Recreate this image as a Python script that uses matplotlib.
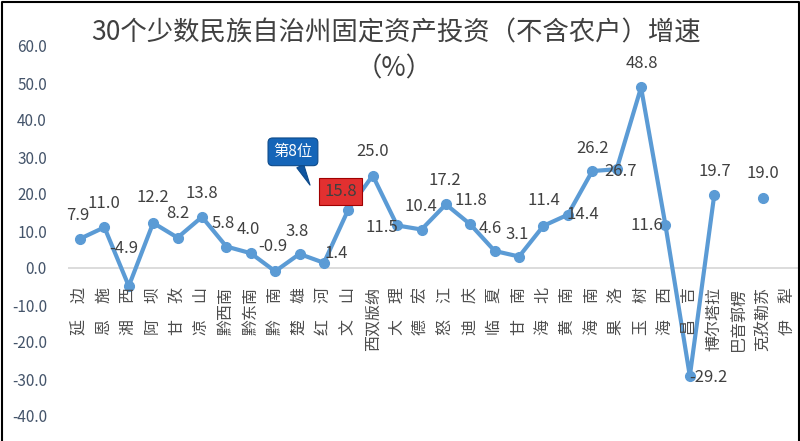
import numpy as np
import matplotlib
matplotlib.use('Agg')
import matplotlib.pyplot as plt
from matplotlib.lines import Line2D

plt.rcParams['font.family'] = ['Noto Sans CJK SC', 'DejaVu Sans']

# 30 autonomous prefectures, growth of fixed asset investment (%)
regions = ['延　边', '恩　施', '湘　西', '阿　坝', '甘　孜', '凉　山', '黔西南', '黔东南',
           '黔　南', '楚　雄', '红　河', '文　山', '西双版纳', '大　理', '德　宏', '怒　江',
           '迪　庆', '临　夏', '甘　南', '海　北', '黄　南', '海　南', '果　洛', '玉　树',
           '海　西', '昌　吉', '博尔塔拉', '巴音郭楞', '克孜勒苏', '伊　犁']
growth = [7.9, 11.0, -4.9, 12.2, 8.2, 13.8, 5.8, 4.0, -0.9, 3.8, 1.4, 15.8, 25.0, 11.5,
          10.4, 17.2, 11.8, 4.6, 3.1, 11.4, 14.4, 26.2, 26.7, 48.8, 11.6, -29.2, 19.7,
          np.nan, 19.0, np.nan]
yticks = list(range(-40, 61, 10))
highlight = 11  # 文山, ranked 8th
callout_text = '第8位'

# label offsets in pixels (dx, dy), Excel placed them a bit irregularly
label_off = [(-2, 23), (0, 24), (-5, 38), (0, 25), (0, 24), (0, 23), (-3, 23), (-2, 24),
             (-2, 25), (-2, 22), (12, 9), (-8, 18), (0, 24), (-15, -2), (-1, 23), (-1, 24),
             (1, 24), (-4, 22), (-2, 22), (0, 25), (15, 0), (0, 23), (4, -2), (1, 24),
             (-19, 0), (19, -1), (1, 24), (0, 0), (0, 24), (0, 0)]

blue = '#5b9bd5'
txt = '#404040'

fig = plt.figure(figsize=(8, 4.41), dpi=100)
ax = fig.add_axes([67.8 / 800, 25 / 441, 731.8 / 800, 370 / 441])

x = np.arange(len(regions))
ax.axhline(0, color='#d9d9d9', lw=1.3, zorder=1)
ax.plot(x, growth, color=blue, lw=3, marker='o', markersize=7, zorder=3,
        solid_capstyle='round', solid_joinstyle='round')

ax.set_xlim(-0.5, len(regions) - 0.5)
ax.set_ylim(-40, 60)
ax.set_yticks(yticks)
ax.set_yticklabels([f'{v:.1f}' for v in yticks], color='#44546a', fontsize=11)
ax.set_xticks([])
ax.tick_params(axis='y', length=0, pad=15)
for s in ax.spines.values():
    s.set_visible(False)

# category labels, rotated, just under the zero line
for i, name in enumerate(regions):
    ax.annotate(name, (i, 0), xytext=(0, -19), textcoords='offset pixels',
                rotation=90, ha='center', va='top', fontsize=11.5, color='#4d4d4d')

# data labels
for i, v in enumerate(growth):
    if np.isnan(v):
        continue
    dx, dy = label_off[i]
    kw = {}
    if i == highlight:
        kw['bbox'] = dict(boxstyle='square,pad=0.3', fc='#e23030', ec='#a00000', lw=0.8)
    ax.annotate(f'{v:.1f}', (i, v), xytext=(dx, dy), textcoords='offset pixels',
                ha='center', va='center', fontsize=12, color=txt, zorder=5, **kw)

# callout bubble
ax.annotate(callout_text, xy=(9.43, 22.4), xytext=(8.73, 31.4),
            ha='center', va='center', fontsize=11, color='white', zorder=6,
            bbox=dict(boxstyle='round,pad=0.35,rounding_size=0.3', fc='#1565b8', ec='#0d4a8a', lw=0.8),
            arrowprops=dict(arrowstyle='wedge,tail_width=0.5', fc='#0f55a0', ec='#0d4a8a',
                            lw=0.8, shrinkA=0, shrinkB=0))

fig.text(395.5 / 800, 1 - 33 / 441, '30个少数民族自治州固定资产投资（不含农户）增速',
         ha='center', va='center', fontsize=19, color=txt)
fig.text(394 / 800, 1 - 69 / 441, '（%）', ha='center', va='center', fontsize=19, color=txt)

# frame around the picture (left, top, right)
fig.add_artist(Line2D([1.5 / 800, 1.5 / 800, 798.5 / 800, 798.5 / 800],
                      [0, 1 - 1.5 / 441, 1 - 1.5 / 441, 0], color='black', lw=1.5,
                      transform=fig.transFigure))

fig.savefig('out.png', dpi=100, facecolor='white')
